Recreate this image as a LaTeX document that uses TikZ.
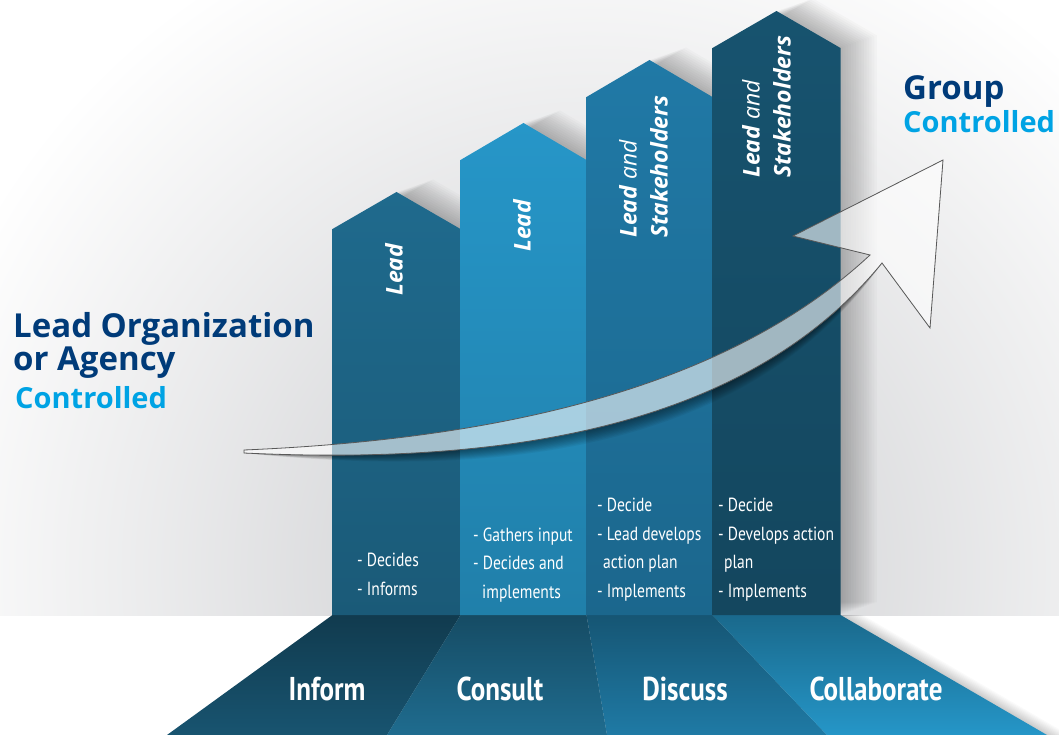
\documentclass[tikz,border=0pt]{standalone}
\usepackage{fontspec}
\setmainfont{Open Sans}
\newfontfamily\narrowfont[FakeStretch=0.82]{PT Sans}
\usetikzlibrary{positioning}
\definecolor{navy}{HTML}{003B79}
\definecolor{sky}{HTML}{00A3E4}
\definecolor{backdrop}{HTML}{C9CACD}
\definecolor{colA}{HTML}{1F6A8D}
\definecolor{colB}{HTML}{2696C8}
\definecolor{colC}{HTML}{2079A6}
\definecolor{colD}{HTML}{17536F}
\definecolor{baseA}{HTML}{185470}
\definecolor{baseB}{HTML}{1F6C8F}
\definecolor{baseC}{HTML}{1F7AA5}
\definecolor{baseD}{HTML}{2596C8}
\tikzset{
	haze/.style={fill=black, fill opacity=0.02}, % one layer of a soft shadow
	swoosh/.style={fill=white, fill opacity=0.6, draw=black!65, draw opacity=1, line width=0.8pt}, % the curved arrow
	headline/.style={anchor=base west, inner sep=0pt, align=left, text=navy, font=\bfseries\fontsize{33}{33}\selectfont},
	subline/.style={anchor=base west, inner sep=0pt, text=sky, font=\bfseries\fontsize{29}{33}\selectfont},
	stagelabel/.style={anchor=base, inner sep=0pt, text=white, font=\narrowfont\bfseries\fontsize{33}{36}\selectfont},
	tasklist/.style={anchor=base west, inner sep=0pt, align=left, text=white, font=\narrowfont\fontsize{19}{28.5}\selectfont}, % anchored at its last line
	rolelabel/.style={anchor=north west, inner sep=0pt, align=left, rotate=90, text=white, font=\itshape\fontsize{23}{31}\selectfont},
}

\begin{document}
\begin{tikzpicture}[x=1pt, y=-1pt]
	\useasboundingbox (0,0) rectangle (1059,735);
	% Background
	\fill[white] (0,0) rectangle (1059,735);
	\begin{scope}
		\clip (0,0) rectangle (1059,615);
		\shade[inner color=backdrop, outer color=white] (590,570) circle (700);
	\end{scope}
	
	% Base
	\foreach \k in {1,...,10}
		\fill[haze, xshift=\k*2.2pt] (332.5,615) -- (840.5,615) -- (1047,735) -- (167,735) -- cycle;
	\foreach \tl/\tr/\bl/\br/\c in {332.5/460.5/167/387/baseA, 460.5/586.5/387/607/baseB, 586.5/712.5/607/827/baseC, 712.5/840.5/827/1047/baseD}
		\shade[top color=\c!70!black, bottom color=\c] (\tl,615) -- (\tr,615) -- (\br,735) -- (\bl,735) -- cycle;
	\node[stagelabel] (inform) at (327,700) {Inform};
	\node[stagelabel] (consult) at (500,700) {Consult};
	\node[stagelabel] (discuss) at (685,700) {Discuss};
	\node[stagelabel] (collaborate) at (876,700) {Collaborate};
	
	% Columns
	\foreach \l/\r/\s/\c in {332.5/460.5/229/colA, 460.5/586.5/160/colB, 586.5/712.5/97/colC, 712.5/840.5/48/colD}{
		\foreach \k in {1,...,14}
			\fill[haze, shift={(\k*2.6,-\k*0.9)}] (\l,615) -- (\l,\s) -- ({(\l+\r)/2},\s-37) -- (\r,\s) -- (\r,615) -- cycle;
		\shade[top color=\c, bottom color=\c!85!black] (\l,615) -- (\l,\s) -- ({(\l+\r)/2},\s-37) -- (\r,\s) -- (\r,615) -- cycle;
	}
	
	% Who decides
	\node[rolelabel] (role1) at (385,296) {\textbf{Lead}};
	\node[rolelabel] (role2) at (513,252) {\textbf{Lead}};
	\node[rolelabel] (role3) at (619,238) {\textbf{Lead} and\\\textbf{Stakeholders}};
	\node[rolelabel] (role4) at (742,178) {\textbf{Lead} and\\\textbf{Stakeholders}};
	
	% What happens
	\node[tasklist] (tasks1) at (357,595) {- Decides\\- Informs};
	\node[tasklist] (tasks2) at (473,598) {- Gathers input\\- Decides and\\\hspace*{9pt}implements};
	\node[tasklist] (tasks3) at (597,597) {- Decide\\- Lead develops\\\hspace*{6pt}action plan\\- Implements};
	\node[tasklist] (tasks4) at (718,597) {- Decide\\- Develops action\\\hspace*{6pt}plan\\- Implements};
	
	% Side titles
	\node[headline] (leadorg) at (13,370) {Lead Organization\\or Agency};
	\node[subline] (leadctl) at (15,408) {Controlled};
	\node[headline] (group) at (903,100) {Group};
	\node[subline] (groupctl) at (903,133) {Controlled};
	
	% Arrow
	\coordinate (tail) at (244,450);
	\coordinate (tailL) at (244,453);
	\coordinate (notchU) at (870,255);
	\coordinate (barbL) at (793,236);
	\coordinate (tip) at (943,160);
	\coordinate (barbR) at (930,328);
	\coordinate (notchL) at (882,263);
	\begin{scope}[even odd rule]
		\clip (0,0) rectangle (1059,735) (tail) .. controls (480,440) and (720,395) .. (notchU) -- (barbL) -- (tip) -- (barbR) -- (notchL) .. controls (745,430) and (500,465) .. (tailL) -- cycle;
		\foreach \k in {1,...,10}
			\fill[haze, fill opacity=0.05, shift={(\k*0.8,\k*1.6)}] (tail) .. controls (480,440) and (720,395) .. (notchU) -- (barbL) -- (tip) -- (barbR) -- (notchL) .. controls (745,430) and (500,465) .. (tailL) -- cycle;
	\end{scope}
	\draw[swoosh] (tail) .. controls (480,440) and (720,395) .. (notchU) -- (barbL) -- (tip) -- (barbR) -- (notchL) .. controls (745,430) and (500,465) .. (tailL) -- cycle;
\end{tikzpicture}
\end{document}
